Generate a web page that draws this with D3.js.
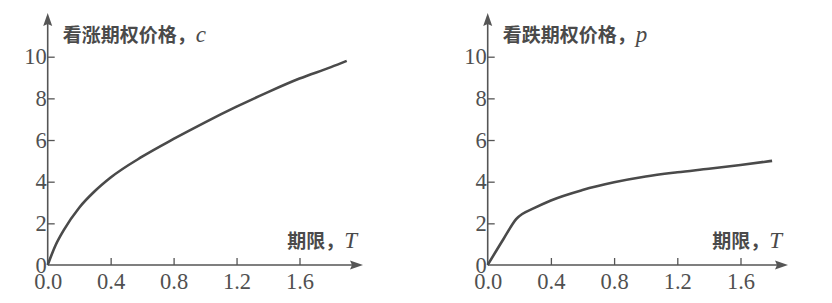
<!DOCTYPE html>
<html>
<head>
<meta charset="utf-8">
<script src="https://cdn.jsdelivr.net/npm/d3@7"></script>
<style>
  body { margin: 0; background: #fff; }
  svg { display: block; }
  .tick text { font-family: "Liberation Serif", serif; font-size: 22.5px; fill: #505050; }
  .tick line { stroke: #555; stroke-width: 1.3; }
  .domain { display: none; }
</style>
</head>
<body>
<div id="chart"></div>
<script>
// call option price vs maturity
var callT = [0, 0.05, 0.1, 0.2, 0.3, 0.4, 0.6, 0.8, 1.0, 1.2, 1.4, 1.6, 1.8, 1.9]
var callPrice = [0, 0.95, 1.65, 2.75, 3.55, 4.2, 5.2, 6.05, 6.85, 7.6, 8.3, 8.95, 9.5, 9.8]

// put option price vs maturity
var putT = [0, 0.1, 0.18, 0.3, 0.4, 0.6, 0.8, 1.0, 1.2, 1.4, 1.6, 1.8]
var putPrice = [0, 1.25, 2.2, 2.75, 3.1, 3.6, 3.97, 4.25, 4.45, 4.62, 4.8, 5.0]

var yTicks = [0, 2, 4, 6, 8, 10]
var xTicks = [0, 0.4, 0.8, 1.2, 1.6]
var xTickLabels = ['0.0', '0.4', '0.8', '1.2', '1.6']

var svg = d3.select('#chart')
    .append('svg')
    .attr('width', 832)
    .attr('height', 303)

svg.append('rect').attr('width', 832).attr('height', 303).attr('fill', '#fff')

function drawPanel(p) {
    var g = svg.append('g')

    var xScale = d3.scaleLinear()
        .domain([0, 1.6])
        .range([p.x0, p.x16])
    var yScale = d3.scaleLinear()
        .domain([0, 10])
        .range([265, 56.7])

    //axes with inward ticks
    var yAxis = d3.axisLeft(yScale)
        .tickValues(yTicks)
        .tickSize(-7)
        .tickPadding(1)
        .tickFormat(d3.format('d'))
    var xAxis = d3.axisBottom(xScale)
        .tickValues(xTicks)
        .tickSize(-7)
        .tickPadding(8)
        .tickFormat((d, i) => xTickLabels[i])

    g.append('g')
        .attr('transform', `translate(${p.x0}, 0)`)
        .call(yAxis)
    g.append('g')
        .attr('transform', 'translate(0, 265)')
        .call(xAxis)

    // the 0 tick on x has no mark
    g.selectAll('.tick line').filter(d => d === 0).remove()

    // axis lines with arrows
    g.append('line')
        .attr('x1', p.x0).attr('y1', 265)
        .attr('x2', p.xEnd - 8).attr('y2', 265)
        .attr('stroke', '#555').attr('stroke-width', 1.6)
    g.append('path')
        .attr('d', `M${p.xEnd},265 L${p.xEnd - 13},260.5 L${p.xEnd - 11},265 L${p.xEnd - 13},269.5 Z`)
        .attr('fill', '#555')
    g.append('line')
        .attr('x1', p.x0).attr('y1', 265)
        .attr('x2', p.x0).attr('y2', 21)
        .attr('stroke', '#555').attr('stroke-width', 1.6)
    g.append('path')
        .attr('d', `M${p.x0},13 L${p.x0 - 4.5},26 L${p.x0},24 L${p.x0 + 4.5},26 Z`)
        .attr('fill', '#555')

    // curve
    var line = d3.line()
        .x(d => xScale(d[0]))
        .y(d => yScale(d[1]))
        .curve(d3.curveMonotoneX)
    g.append('path')
        .datum(d3.zip(p.xs, p.ys))
        .attr('d', line)
        .attr('fill', 'none')
        .attr('stroke', '#4a4a4a')
        .attr('stroke-width', 2.6)

    // y label
    var yl = g.append('text')
        .attr('x', p.x0 + 15)
        .attr('y', 42)
        .attr('fill', '#4a4a4a')
    yl.append('tspan')
        .attr('font-family', '"Noto Sans CJK SC", sans-serif')
        .attr('font-weight', 'bold')
        .attr('font-size', '19px')
        .text(p.title + '，')
    yl.append('tspan')
        .attr('font-family', '"Liberation Serif", serif')
        .attr('font-style', 'italic')
        .attr('font-size', '23px')
        .text(p.sym)

    // x label
    var xl = g.append('text')
        .attr('x', p.xEnd - 6)
        .attr('y', 248)
        .attr('text-anchor', 'end')
        .attr('fill', '#4a4a4a')
    xl.append('tspan')
        .attr('font-family', '"Noto Sans CJK SC", sans-serif')
        .attr('font-weight', 'bold')
        .attr('font-size', '19px')
        .text('期限，')
    xl.append('tspan')
        .attr('font-family', '"Liberation Serif", serif')
        .attr('font-style', 'italic')
        .attr('font-size', '23px')
        .text('T')
}

drawPanel({x0: 47.7, x16: 299.5, xEnd: 363, xs: callT, ys: callPrice, title: '看涨期权价格', sym: 'c'})
drawPanel({x0: 487.7, x16: 740.5, xEnd: 788, xs: putT, ys: putPrice, title: '看跌期权价格', sym: 'p'})
</script>
</body>
</html>
